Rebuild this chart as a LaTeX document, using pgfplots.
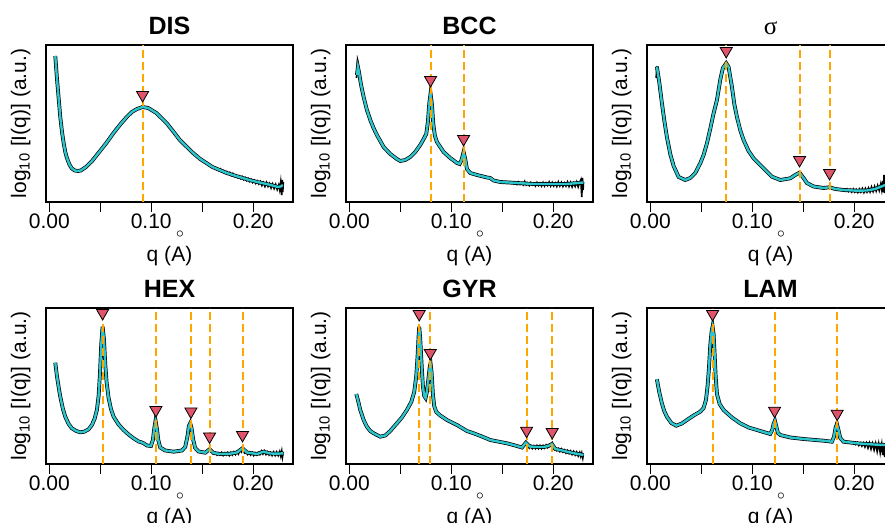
\documentclass[border=0pt]{standalone}
\usepackage{pgfplots}
\pgfplotsset{compat=1.18}
\usepackage{fontspec}
\setmainfont{Liberation Sans}
\newfontfamily\serifsym{Liberation Serif}
\definecolor{fitc}{HTML}{2CC5CC}
\definecolor{tric}{HTML}{DF536B}
\definecolor{dashc}{HTML}{FFA500}
\pgfplotsset{
  panel/.style={
    scale only axis, width=123.5pt,
    anchor=south west,
    xmin=-0.0032, xmax=0.239, ymin=0,
    axis line style={line width=0.6pt},
    xtick={0,0.05,0.1,0.15,0.2}, xticklabels={0.00,,0.10,,0.20},
    ytick=\empty,
    tick align=outside, xtick pos=bottom, major tick length=5pt,
    tick style={line width=0.6pt, black},
    /pgf/number format/assume math mode=true,
    xticklabel style={font=\fontsize{10.5}{12}\selectfont, inner sep=1pt, yshift=0.5pt},
    every axis title/.style={at={(axis description cs:0.5,1)}, anchor=base, yshift=5.4pt, font=\bfseries\fontsize{12.5}{14}\selectfont},
    every axis x label/.style={at={(axis description cs:0.5,0)}, anchor=base, yshift=-30pt, font=\fontsize{10.5}{12}\selectfont},
    every axis y label/.style={at={(axis description cs:-0.08,0.5)}, rotate=90, anchor=base, font=\fontsize{10.5}{12}\selectfont},
    ylabel={log\textsubscript{10} [I(q)] (a.u.)},
    xlabel={q (\rlap{\hspace{2.3pt}\raisebox{12.3pt}{\fontsize{7.5}{7.5}\selectfont$\circ$}}A)},
    clip=true,
  },
  toprow/.style={panel, height=78.5pt, ymax=157},
  botrow/.style={panel, height=78pt, ymax=156},
  fit/.style={fitc, line width=1.2pt},
  dat/.style={black, line width=1.9pt},
  nse/.style={black, line width=0.8pt},
  vdash/.style={dashc, line width=1pt, dash pattern=on 4pt off 2pt},
  tri/.style={only marks, mark=triangle*, mark size=3.5pt, mark options={rotate=180, fill=tric, draw=none}},
}
\begin{document}
\begin{tikzpicture}
\useasboundingbox (0,0) rectangle (442.5pt,261.5pt);
\clip (0,0) rectangle (442.5pt,261.5pt);

% ---------------- DIS ----------------
\begin{axis}[toprow, at={(23pt,160.5pt)}, title={DIS}]
\addplot[dat] coordinates {(0.0059,146) (0.0075,124) (0.0091,105) (0.0108,85) (0.0125,70) (0.0141,59) (0.0157,50) (0.0173,44) (0.020,37) (0.0222,33.5) (0.025,31.5) (0.028,31) (0.031,31.5) (0.036,35) (0.042,41) (0.049,50) (0.056,59) (0.063,69) (0.070,78) (0.076,85) (0.081,90) (0.086,93) (0.0915,95) (0.097,94) (0.105,89) (0.110,84) (0.115,79) (0.122,70) (0.128,62) (0.135,55) (0.141,49) (0.148,43) (0.154,39) (0.160,35) (0.167,32) (0.174,29) (0.180,27) (0.188,24.5) (0.196,22) (0.204,20) (0.213,18) (0.219,16.5) (0.224,15) (0.227,15.5) (0.229,17)};
\addplot[nse] coordinates {(0.0058,137) (0.0063,134) (0.0068,140) (0.0075,126)};
\addplot[nse] coordinates {(0.165,33.5) (0.1665,31.5) (0.168,33) (0.1695,30.5) (0.171,31.5) (0.1725,29.5) (0.174,30.5) (0.1755,28) (0.177,29.5) (0.1785,26.5) (0.180,28.5) (0.1815,25.5) (0.183,27) (0.1845,24.5) (0.186,26) (0.1875,23.5) (0.189,25.5) (0.1905,22.5) (0.192,24.5) (0.1935,21.5) (0.195,23.5) (0.1965,20.5) (0.198,22.5) (0.1995,19.5) (0.201,21.5) (0.2025,18.5) (0.204,21) (0.2055,18) (0.207,20.5) (0.2085,16.5) (0.210,19.5) (0.2115,15.5) (0.213,19.5) (0.2145,15.5) (0.216,18.5) (0.2175,14) (0.219,18) (0.2205,13.5) (0.222,17.5) (0.2235,12.5) (0.225,17) (0.226,12) (0.227,20) (0.228,7) (0.2285,22) (0.229,10) (0.2295,20)};
\addplot[fit] coordinates {(0.0059,146) (0.0075,124) (0.0091,105) (0.0108,85) (0.0125,70) (0.0141,59) (0.0157,50) (0.0173,44) (0.020,37) (0.0222,33.5) (0.025,31.5) (0.028,31) (0.031,31.5) (0.036,35) (0.042,41) (0.049,50) (0.056,59) (0.063,69) (0.070,78) (0.076,85) (0.081,90) (0.086,93) (0.0915,95) (0.097,94) (0.105,89) (0.110,84) (0.115,79) (0.122,70) (0.128,62) (0.135,55) (0.141,49) (0.148,43) (0.154,39) (0.160,35) (0.167,32) (0.174,29) (0.180,27) (0.188,24.5) (0.196,22) (0.204,20) (0.213,18) (0.219,16.5) (0.224,15) (0.227,15.5) (0.229,17)};
\addplot[vdash] coordinates {(0.0915,0) (0.0915,157)};
\addplot[tri] coordinates {(0.0915,107)};
\end{axis}

% ---------------- BCC ----------------
\begin{axis}[toprow, at={(173pt,160.5pt)}, title={BCC}]
\addplot[dat] coordinates {(0.0075,127) (0.0085,135) (0.0095,130) (0.0114,118) (0.0141,105) (0.0173,92) (0.0206,82) (0.0238,74) (0.0271,67) (0.0337,55) (0.0402,48) (0.0467,43) (0.0500,41) (0.0549,42) (0.0598,45) (0.0647,50) (0.0696,57) (0.0735,64) (0.0755,68) (0.0771,80) (0.0784,98) (0.0797,108.5) (0.0810,98) (0.0824,78) (0.0840,66) (0.0860,60) (0.0892,55) (0.0925,50) (0.0990,44) (0.1056,39) (0.1082,38) (0.1101,42) (0.1121,50) (0.1137,43) (0.1154,33) (0.1186,29) (0.1252,27) (0.1350,24.5) (0.1382,24) (0.1415,21.5) (0.1480,20) (0.1644,19) (0.1807,18) (0.1971,18) (0.2134,18) (0.2297,19.5)};
\addplot[nse] coordinates {(0.0070,124) (0.0076,128) (0.0080,139) (0.0085,136) (0.0090,131)};
\addplot[nse] coordinates {(0.160,20) (0.1615,18) (0.163,19.5) (0.1645,17.5) (0.166,20) (0.1675,17.5) (0.169,19) (0.1705,17) (0.172,20.5) (0.1735,17) (0.175,19) (0.1765,16.5) (0.178,19.5) (0.1795,17) (0.181,18.5) (0.1825,16) (0.184,19.5) (0.1855,16.5) (0.187,19) (0.1885,16) (0.190,19.5) (0.1915,16) (0.193,19) (0.1945,16.5) (0.196,20) (0.1975,16) (0.199,19.5) (0.2005,16) (0.202,19) (0.2035,15.5) (0.205,20) (0.2065,16) (0.208,19.5) (0.2095,15.5) (0.211,19) (0.2125,16) (0.214,20) (0.2155,15.5) (0.217,19.5) (0.2185,15) (0.220,19) (0.2215,15.5) (0.223,20) (0.2245,15) (0.226,19.5) (0.227,22) (0.228,5) (0.2287,24) (0.2293,12) (0.2297,20)};
\addplot[fit] coordinates {(0.0075,127) (0.0085,135) (0.0095,130) (0.0114,118) (0.0141,105) (0.0173,92) (0.0206,82) (0.0238,74) (0.0271,67) (0.0337,55) (0.0402,48) (0.0467,43) (0.0500,41) (0.0549,42) (0.0598,45) (0.0647,50) (0.0696,57) (0.0735,64) (0.0755,68) (0.0771,80) (0.0784,98) (0.0797,108.5) (0.0810,98) (0.0824,78) (0.0840,66) (0.0860,60) (0.0892,55) (0.0925,50) (0.0990,44) (0.1056,39) (0.1082,38) (0.1101,42) (0.1121,50) (0.1137,43) (0.1154,33) (0.1186,29) (0.1252,27) (0.1350,24.5) (0.1382,24) (0.1415,21.5) (0.1480,20) (0.1644,19) (0.1807,18) (0.1971,18) (0.2134,18) (0.2297,19.5)};
\addplot[vdash] coordinates {(0.0797,0) (0.0797,157)};
\addplot[vdash] coordinates {(0.1121,0) (0.1121,157)};
\addplot[tri] coordinates {(0.0797,122) (0.1121,63)};
\end{axis}

% ---------------- sigma ----------------
\begin{axis}[toprow, at={(323.5pt,160.5pt)}, title={\serifsym\mdseries σ}]
\addplot[dat] coordinates {(0.0065,135.3) (0.0088,120) (0.0114,99) (0.0137,82) (0.0163,65) (0.0196,48) (0.0229,36) (0.0278,25) (0.0343,22) (0.0392,24) (0.0441,29) (0.0490,38.7) (0.0523,47) (0.0556,58.7) (0.0588,73) (0.0621,88.7) (0.0654,102) (0.0686,122) (0.0712,134) (0.0745,138.7) (0.0768,135) (0.0801,115) (0.0824,98) (0.0850,85) (0.0882,72) (0.0915,62) (0.0964,51) (0.1013,43.7) (0.1111,33.7) (0.1193,25.3) (0.1275,22) (0.1373,23.7) (0.1422,27) (0.1464,29.3) (0.1503,24) (0.1536,19) (0.1601,15.5) (0.1699,14) (0.1758,14.7) (0.1814,13) (0.1895,12) (0.2026,11.3) (0.2124,11.5) (0.2206,13) (0.2255,15) (0.2304,17)};
\addplot[nse] coordinates {(0.0057,124) (0.0062,130) (0.0067,136)};
\addplot[nse] coordinates {(0.190,13) (0.1915,11) (0.193,13) (0.1945,10.5) (0.196,12.5) (0.1975,10) (0.199,13) (0.2005,10) (0.202,12.5) (0.2035,9.5) (0.205,13) (0.2065,10) (0.208,13.5) (0.2095,9.5) (0.211,13.5) (0.2125,10) (0.214,14) (0.2155,10) (0.217,15) (0.2185,10.5) (0.220,15.5) (0.2215,11) (0.223,16.5) (0.2245,11.5) (0.226,18) (0.227,12) (0.228,21) (0.2287,10) (0.2292,27) (0.2297,9) (0.2302,25)};
\addplot[fit] coordinates {(0.0065,135.3) (0.0088,120) (0.0114,99) (0.0137,82) (0.0163,65) (0.0196,48) (0.0229,36) (0.0278,25) (0.0343,22) (0.0392,24) (0.0441,29) (0.0490,38.7) (0.0523,47) (0.0556,58.7) (0.0588,73) (0.0621,88.7) (0.0654,102) (0.0686,122) (0.0712,134) (0.0745,138.7) (0.0768,135) (0.0801,115) (0.0824,98) (0.0850,85) (0.0882,72) (0.0915,62) (0.0964,51) (0.1013,43.7) (0.1111,33.7) (0.1193,25.3) (0.1275,22) (0.1373,23.7) (0.1422,27) (0.1464,29.3) (0.1503,24) (0.1536,19) (0.1601,15.5) (0.1699,14) (0.1758,14.7) (0.1814,13) (0.1895,12) (0.2026,11.3) (0.2124,11.5) (0.2206,13) (0.2255,15) (0.2304,17)};
\addplot[vdash] coordinates {(0.0745,0) (0.0745,157)};
\addplot[vdash] coordinates {(0.1464,0) (0.1464,157)};
\addplot[vdash] coordinates {(0.1758,0) (0.1758,157)};
\addplot[tri] coordinates {(0.0745,151) (0.1464,42) (0.1758,29)};
\end{axis}

% ---------------- HEX ----------------
\begin{axis}[botrow, at={(23pt,29.5pt)}, title={HEX}]
\addplot[dat] coordinates {(0.0059,101.3) (0.0075,88) (0.0092,77) (0.0108,67.3) (0.0134,55) (0.0157,47.3) (0.0190,40) (0.0222,35.7) (0.0265,33) (0.0304,31.7) (0.0343,32.3) (0.0386,34.7) (0.0418,39) (0.0444,45) (0.0467,54) (0.0484,68) (0.0497,90) (0.0510,120) (0.0523,137.3) (0.0536,125) (0.0549,100) (0.0562,82) (0.0582,66) (0.0605,55) (0.0631,47.3) (0.0680,39.5) (0.0729,34) (0.0778,29.5) (0.0827,25.7) (0.0876,22.5) (0.0909,21.5) (0.0925,20.7) (0.0958,18.5) (0.0997,18) (0.1016,24) (0.1029,35) (0.1042,43.3) (0.1056,35) (0.1069,24) (0.1088,16.5) (0.1137,13.5) (0.1219,12.3) (0.1301,13.5) (0.1333,17) (0.1356,28) (0.1369,38) (0.1382,40.7) (0.1395,36) (0.1412,24) (0.1431,16) (0.1464,12.5) (0.1529,11.3) (0.1572,14.7) (0.1611,11) (0.1676,10) (0.1775,10.3) (0.1840,11.5) (0.1895,15.7) (0.1938,11.5) (0.2036,10) (0.2101,12.3) (0.2167,10.5) (0.2232,10.3) (0.2297,10.7)};
\addplot[nse] coordinates {(0.160,12) (0.1615,10) (0.163,11.5) (0.1645,9) (0.166,11) (0.1675,9) (0.169,11.5) (0.1705,8.5) (0.172,11) (0.1735,9) (0.175,11.5) (0.1765,8.5) (0.178,11.5) (0.1795,9) (0.181,12) (0.1825,9.5) (0.184,12.5) (0.1855,10) (0.187,14) (0.1885,12) (0.190,16) (0.1915,11) (0.193,12) (0.1945,9.5) (0.196,11.5) (0.1975,9) (0.199,11.5) (0.2005,8.5) (0.202,11) (0.2035,9) (0.205,11.5) (0.2065,9.5) (0.208,13) (0.2095,10) (0.211,13) (0.2125,9.5) (0.214,12) (0.2155,9) (0.217,11.5) (0.2185,8.5) (0.220,12) (0.2215,8.5) (0.223,12) (0.2245,8.5) (0.226,12.5) (0.227,8) (0.228,13) (0.2287,7) (0.2295,12)};
\addplot[fit] coordinates {(0.0059,101.3) (0.0075,88) (0.0092,77) (0.0108,67.3) (0.0134,55) (0.0157,47.3) (0.0190,40) (0.0222,35.7) (0.0265,33) (0.0304,31.7) (0.0343,32.3) (0.0386,34.7) (0.0418,39) (0.0444,45) (0.0467,54) (0.0484,68) (0.0497,90) (0.0510,120) (0.0523,137.3) (0.0536,125) (0.0549,100) (0.0562,82) (0.0582,66) (0.0605,55) (0.0631,47.3) (0.0680,39.5) (0.0729,34) (0.0778,29.5) (0.0827,25.7) (0.0876,22.5) (0.0909,21.5) (0.0925,20.7) (0.0958,18.5) (0.0997,18) (0.1016,24) (0.1029,35) (0.1042,43.3) (0.1056,35) (0.1069,24) (0.1088,16.5) (0.1137,13.5) (0.1219,12.3) (0.1301,13.5) (0.1333,17) (0.1356,28) (0.1369,38) (0.1382,40.7) (0.1395,36) (0.1412,24) (0.1431,16) (0.1464,12.5) (0.1529,11.3) (0.1572,14.7) (0.1611,11) (0.1676,10) (0.1775,10.3) (0.1840,11.5) (0.1895,15.7) (0.1938,11.5) (0.2036,10) (0.2101,12.3) (0.2167,10.5) (0.2232,10.3) (0.2297,10.7)};
\addplot[vdash] coordinates {(0.0523,0) (0.0523,156)};
\addplot[vdash] coordinates {(0.1046,0) (0.1046,156)};
\addplot[vdash] coordinates {(0.1389,0) (0.1389,156)};
\addplot[vdash] coordinates {(0.1572,0) (0.1572,156)};
\addplot[vdash] coordinates {(0.1895,0) (0.1895,156)};
\addplot[tri] coordinates {(0.0523,151) (0.1046,54) (0.1389,52.5) (0.1572,27.5) (0.1895,29)};
\end{axis}

% ---------------- GYR ----------------
\begin{axis}[botrow, at={(173pt,29.5pt)}, title={GYR}]
\addplot[dat] coordinates {(0.0069,70) (0.0092,61) (0.0108,54) (0.0141,44) (0.0173,37.3) (0.0206,33) (0.0239,30.7) (0.0304,27.3) (0.0353,28.5) (0.0402,33) (0.0467,40.7) (0.0516,46.5) (0.0565,54) (0.0608,62) (0.0637,72) (0.0657,88) (0.0670,108) (0.0680,128) (0.0686,137.3) (0.0696,125) (0.0709,100) (0.0722,78) (0.0735,68) (0.0748,66) (0.0761,72) (0.0775,84) (0.0788,96) (0.0797,100.7) (0.0807,92) (0.0820,70) (0.0833,58) (0.0853,52) (0.0892,48.5) (0.0958,44) (0.1056,39) (0.1154,33) (0.1219,30.7) (0.1301,27.5) (0.1382,24) (0.1480,22) (0.1546,20.7) (0.1644,18) (0.1693,16.5) (0.1732,21.3) (0.1768,17.5) (0.1840,17) (0.1905,17) (0.1954,18) (0.1987,20) (0.2020,15) (0.2069,14) (0.2134,12.3) (0.2216,10.5) (0.2297,9)};
\addplot[nse] coordinates {(0.175,18.5) (0.1765,16) (0.178,18.5) (0.1795,15.5) (0.181,18) (0.1825,15.5) (0.184,18.5) (0.1855,15.5) (0.187,18.5) (0.1885,15.5) (0.190,18.5) (0.1915,16) (0.193,19) (0.1945,16.5) (0.196,19.5) (0.1975,18) (0.199,21) (0.2005,15.5) (0.202,16.5) (0.2035,13.5) (0.205,15.5) (0.2065,12.5) (0.208,15) (0.2095,12) (0.211,14) (0.2125,11) (0.214,13.5) (0.2155,10.5) (0.217,13) (0.2185,9.5) (0.220,12.5) (0.2215,9) (0.223,12) (0.2245,8) (0.226,11.5) (0.227,7.5) (0.228,11) (0.229,6) (0.2295,9.5)};
\addplot[fit] coordinates {(0.0069,70) (0.0092,61) (0.0108,54) (0.0141,44) (0.0173,37.3) (0.0206,33) (0.0239,30.7) (0.0304,27.3) (0.0353,28.5) (0.0402,33) (0.0467,40.7) (0.0516,46.5) (0.0565,54) (0.0608,62) (0.0637,72) (0.0657,88) (0.0670,108) (0.0680,128) (0.0686,137.3) (0.0696,125) (0.0709,100) (0.0722,78) (0.0735,68) (0.0748,66) (0.0761,72) (0.0775,84) (0.0788,96) (0.0797,100.7) (0.0807,92) (0.0820,70) (0.0833,58) (0.0853,52) (0.0892,48.5) (0.0958,44) (0.1056,39) (0.1154,33) (0.1219,30.7) (0.1301,27.5) (0.1382,24) (0.1480,22) (0.1546,20.7) (0.1644,18) (0.1693,16.5) (0.1732,21.3) (0.1768,17.5) (0.1840,17) (0.1905,17) (0.1954,18) (0.1987,20) (0.2020,15) (0.2069,14) (0.2134,12.3) (0.2216,10.5) (0.2297,9)};
\addplot[vdash] coordinates {(0.0686,0) (0.0686,156)};
\addplot[vdash] coordinates {(0.0794,0) (0.0794,156)};
\addplot[vdash] coordinates {(0.1739,0) (0.1739,156)};
\addplot[vdash] coordinates {(0.1990,0) (0.1990,156)};
\addplot[tri] coordinates {(0.0686,150) (0.0794,111) (0.1739,33.3) (0.1990,32)};
\end{axis}

% ---------------- LAM ----------------
\begin{axis}[botrow, at={(323.5pt,29.5pt)}, title={LAM}]
\addplot[dat] coordinates {(0.0065,84.7) (0.0088,72) (0.0114,60.7) (0.0137,53) (0.0163,47.3) (0.0206,41) (0.0255,38.3) (0.0310,40.5) (0.0359,44) (0.0425,48.5) (0.0490,52.3) (0.0523,56) (0.0546,64) (0.0562,78) (0.0575,95) (0.0588,118) (0.0601,132) (0.0611,137.3) (0.0621,130) (0.0631,110) (0.0641,88) (0.0654,70) (0.0680,60) (0.0719,54) (0.0801,46.5) (0.0882,40.7) (0.0964,36.5) (0.1046,34) (0.1127,31.5) (0.1176,30) (0.1196,34) (0.1209,40) (0.1222,43.3) (0.1235,38) (0.1252,31) (0.1275,29) (0.1373,26.5) (0.1503,25) (0.1699,23.3) (0.1781,22.3) (0.1801,27) (0.1817,36) (0.1830,40) (0.1843,35) (0.1863,26) (0.1895,22.3) (0.2026,20.7) (0.2190,19.5) (0.2304,19)};
\addplot[nse] coordinates {(0.200,21.5) (0.2015,19.5) (0.203,21.5) (0.2045,18.5) (0.206,21) (0.2075,18) (0.209,21) (0.2105,17) (0.212,21) (0.2135,16) (0.215,21) (0.2165,15) (0.218,20.5) (0.2195,14) (0.221,20.5) (0.2225,12.5) (0.224,20.5) (0.2255,11) (0.227,20) (0.228,9) (0.229,21) (0.2298,7) (0.2305,20)};
\addplot[fit] coordinates {(0.0065,84.7) (0.0088,72) (0.0114,60.7) (0.0137,53) (0.0163,47.3) (0.0206,41) (0.0255,38.3) (0.0310,40.5) (0.0359,44) (0.0425,48.5) (0.0490,52.3) (0.0523,56) (0.0546,64) (0.0562,78) (0.0575,95) (0.0588,118) (0.0601,132) (0.0611,137.3) (0.0621,130) (0.0631,110) (0.0641,88) (0.0654,70) (0.0680,60) (0.0719,54) (0.0801,46.5) (0.0882,40.7) (0.0964,36.5) (0.1046,34) (0.1127,31.5) (0.1176,30) (0.1196,34) (0.1209,40) (0.1222,43.3) (0.1235,38) (0.1252,31) (0.1275,29) (0.1373,26.5) (0.1503,25) (0.1699,23.3) (0.1781,22.3) (0.1801,27) (0.1817,36) (0.1830,40) (0.1843,35) (0.1863,26) (0.1895,22.3) (0.2026,20.7) (0.2190,19.5) (0.2304,19)};
\addplot[vdash] coordinates {(0.0611,0) (0.0611,156)};
\addplot[vdash] coordinates {(0.1219,0) (0.1219,156)};
\addplot[vdash] coordinates {(0.1833,0) (0.1833,156)};
\addplot[tri] coordinates {(0.0611,150) (0.1219,53.3) (0.1833,50.3)};
\end{axis}
\end{tikzpicture}
\end{document}
